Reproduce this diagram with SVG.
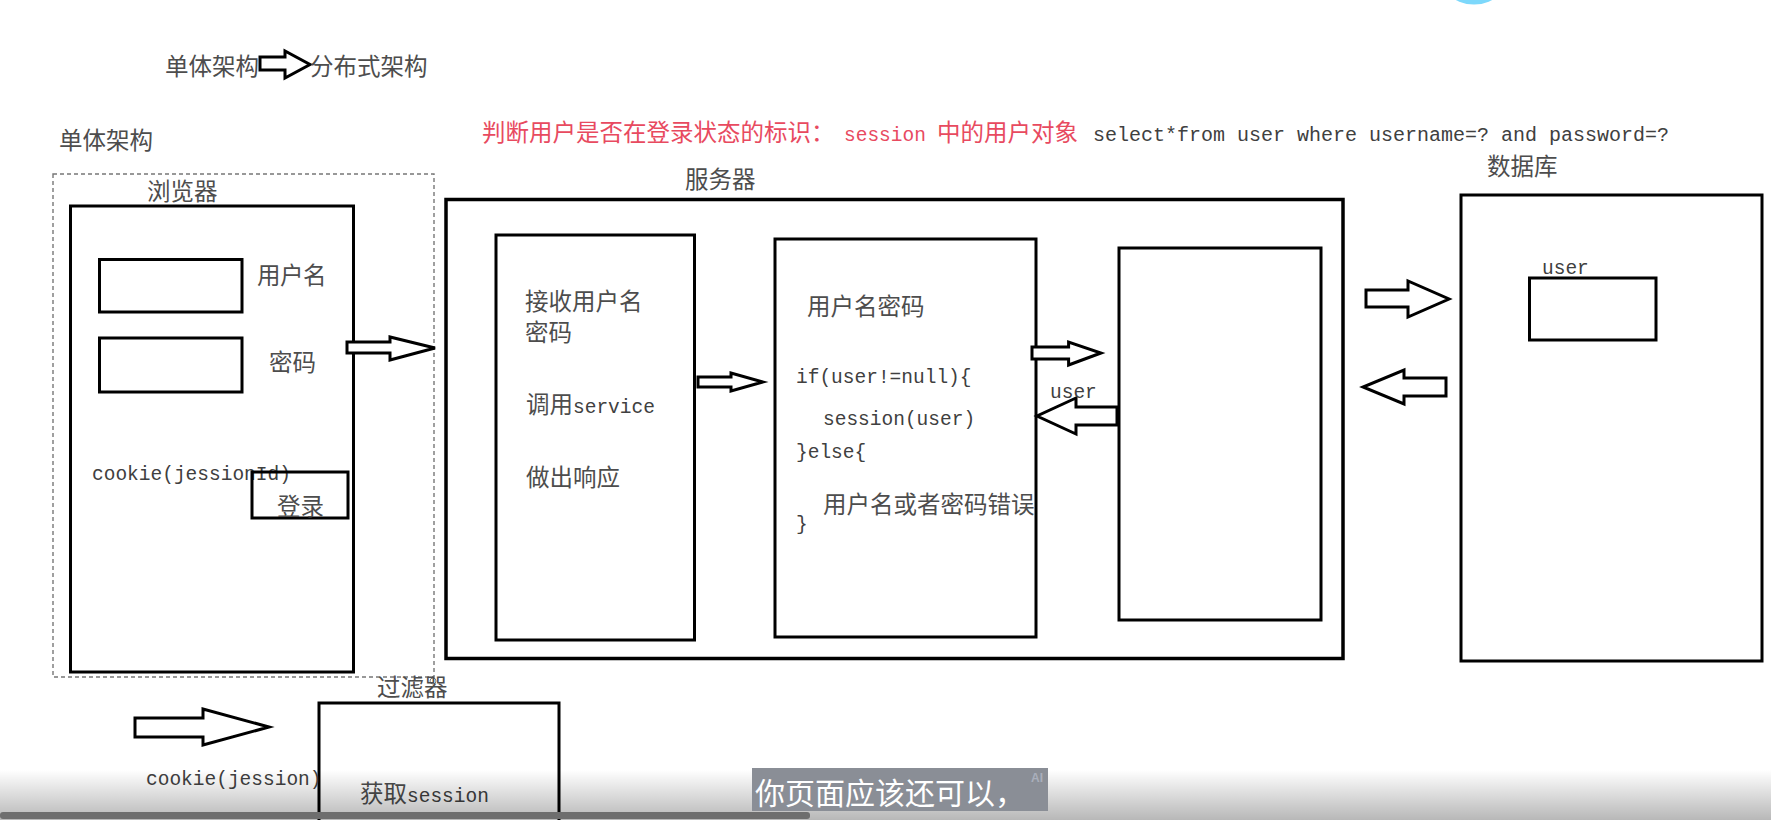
<svg xmlns="http://www.w3.org/2000/svg" width="1771" height="820" viewBox="0 0 1771 820">
<style>
.cjk{font-family:"Noto Sans CJK SC","Noto Sans",sans-serif;font-size:23.5px;fill:#4d4d4d}
.mono{font-family:"Liberation Mono","DejaVu Sans Mono",monospace;font-size:19.5px;fill:#404040}
.red{fill:#e84a5f}
.box{fill:none;stroke:#000;stroke-width:3}
.arr{fill:#fff;stroke:#000;stroke-width:3;stroke-linejoin:miter}
</style>
<defs>
<linearGradient id="shade" x1="0" y1="0" x2="0" y2="1">
<stop offset="0" stop-color="#000" stop-opacity="0"/>
<stop offset="1" stop-color="#000" stop-opacity="0.28"/>
</linearGradient>
</defs>
<rect width="1771" height="820" fill="#fff"/>
<circle cx="1474" cy="-34" r="38.6" fill="#7dd8fb"/>

<g id="title">
<text class="cjk" x="165" y="75">单体架构</text>
<polygon class="arr" points="260,57 285,57 285,51 310,64.5 285,78 285,70 260,70"/>
<text class="cjk" x="310" y="75">分布式架构</text>
</g>

<g id="section-label">
<text class="cjk" x="59" y="149">单体架构</text>
</g>

<g id="note">
<text class="cjk red" x="482" y="141">判断用户是否在登录状态的标识：</text>
<text class="mono red" x="844" y="141">session</text>
<text class="cjk red" x="937" y="141">中的用户对象</text>
<text class="mono" x="1093" y="141" style="font-size:20px">select*from user where username=? and password=?</text>
</g>

<g id="browser">
<rect x="53" y="174" width="381" height="503" fill="none" stroke="#777" stroke-width="1.4" stroke-dasharray="4 3"/>
<text class="cjk" x="147" y="200">浏览器</text>
<rect class="box" x="70.5" y="206" width="283" height="466"/>
<rect class="box" x="99.5" y="259.5" width="142.5" height="52.5"/>
<text class="cjk" x="257" y="284" letter-spacing="-0.5">用户名</text>
<rect class="box" x="99.5" y="338" width="142.5" height="54"/>
<text class="cjk" x="269" y="371">密码</text>
<text class="mono" x="92" y="480">cookie(jessionId)</text>
<rect class="box" x="252" y="472" width="96" height="46"/>
<text class="cjk" x="277" y="515">登录</text>
<circle cx="433" cy="681" r="3" fill="#fff" stroke="#777" stroke-width="1"/>
</g>

<g id="server">
<text class="cjk" x="685" y="188">服务器</text>
<rect x="446" y="199.5" width="897" height="459" fill="none" stroke="#000" stroke-width="3.5"/>
</g>

<g id="controller">
<rect class="box" x="496" y="235" width="198.5" height="405"/>
<text class="cjk" x="525" y="310">接收用户名</text>
<text class="cjk" x="525" y="341">密码</text>
<text x="526" y="413"><tspan class="cjk">调用</tspan><tspan class="mono">service</tspan></text>
<text class="cjk" x="526" y="486">做出响应</text>
</g>

<g id="service">
<rect class="box" x="775" y="239" width="261" height="398"/>
<text class="cjk" x="807" y="315">用户名密码</text>
<text class="mono" x="796" y="383">if(user!=null){</text>
<text class="mono" x="823" y="425">session(user)</text>
<text class="mono" x="796" y="458">}else{</text>
<text class="cjk" x="823" y="513">用户名或者密码错误</text>
<text class="mono" x="796" y="530">}</text>
</g>

<g id="dao">
<rect class="box" x="1119" y="248" width="202" height="372"/>
</g>

<g id="database">
<text class="cjk" x="1487" y="175">数据库</text>
<rect class="box" x="1461" y="195" width="301" height="466"/>
<text class="mono" x="1542" y="274">user</text>
<rect class="box" x="1529.5" y="278" width="126.5" height="62"/>
</g>

<g id="filter">
<text class="cjk" x="377" y="696">过滤器</text>
<path class="box" d="M319,820 V703 H559 V820"/>
<text class="mono" x="146" y="785">cookie(jession)</text>
<text x="360" y="802"><tspan class="cjk">获取</tspan><tspan class="mono">session</tspan></text>
</g>

<g id="connectors">
<polygon class="arr" points="347,342 390,342 390,337 435,348 390,360 390,353 347,353"/>
<polygon class="arr" points="698,377 731,377 731,373 763,382 731,391 731,387 698,387"/>
<polygon class="arr" points="1032,347 1068.6,347 1068.6,342 1101,353 1068.6,365 1068.6,359 1032,359"/>
<polygon class="arr" points="1117,407 1076,407 1076,398 1037,416 1076,434 1076,425 1117,425"/>
<text class="mono" x="1050" y="398">user</text>
<polygon class="arr" points="1366,290 1408,290 1408,281 1449,299 1408,317 1408,307 1366,307"/>
<polygon class="arr" points="1446,378 1404,378 1404,370 1363,387 1404,404 1404,396 1446,396"/>
<polygon class="arr" points="135,718 203,718 203,709 269,727 203,745 203,737 135,737"/>
</g>

<g id="player-overlay">
<rect x="0" y="770" width="1771" height="50" fill="url(#shade)"/>
<rect x="752" y="768" width="296" height="43" fill="#8a8e96"/>
<text x="755" y="804" style="font-family:'Noto Sans CJK SC',sans-serif;font-size:30px;fill:#fff">你页面应该还可以，</text>
<text x="1031" y="782" style="font-family:'Liberation Sans',sans-serif;font-size:12px;font-weight:bold;fill:#a9aebb">AI</text>
<rect x="0" y="812" width="810" height="7" rx="3" fill="#6e6e6e"/>
</g>
</svg>
